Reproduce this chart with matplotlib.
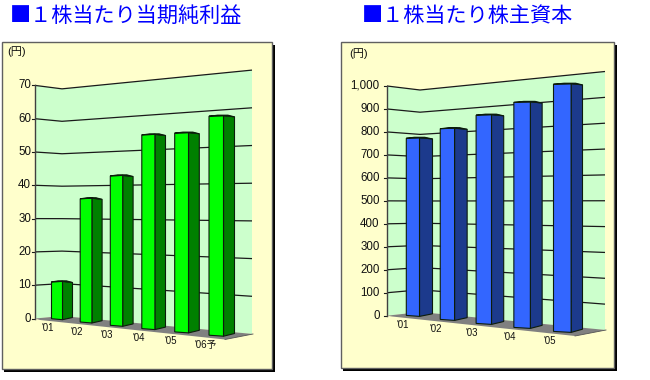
import numpy as np
import matplotlib
matplotlib.use('Agg')
import matplotlib.pyplot as plt
from matplotlib.patches import Polygon, Rectangle

plt.rcParams['font.family'] = ['Liberation Sans', 'Noto Sans CJK JP', 'DejaVu Sans']

# data
years_eps = ["'01", "'02", "'03", "'04", "'05", "'06予"]
eps = [11.0, 36.0, 43.1, 55.2, 56.0, 61.0]
ticks_eps = [0, 10, 20, 30, 40, 50, 60, 70]
ticklabels_eps = ['0', '10', '20', '30', '40', '50', '60', '70']

years_bps = ["'01", "'02", "'03", "'04", "'05"]
bps = [775, 820, 880, 935, 1010]
ticks_bps = [0, 100, 200, 300, 400, 500, 600, 700, 800, 900, 1000]
ticklabels_bps = ['0', '100', '200', '300', '400', '500', '600', '700', '800', '900', '1,000']

title_eps = '■１株当たり当期純利益'
title_bps = '■１株当たり株主資本'

# layout in pixels (fake 3d projection of the old chart)
left_cfg = dict(
    panel=(1.5, 42, 272, 369), wall_x=(35, 62, 252),
    base=(318.5, 316, 334), unit=(3.33, 3.245, 3.77),
    corner_front=(225, 339.5), floor_start=(40, 320),
    slot=(51.5, 28.0, 0.7), front_w=(11, 0.7), side_w=(10, 0.2),
    bar_base=(319.3, 3.3), bar_unit=(3.4, 0.04), side_drop=(1.8, 0.1),
    label_dx=-3.5, label_dy=9, tick_x=31, unit_pos=(17, 52),
    title_x=10, colors=('#00FF00', '#008000'))
right_cfg = dict(
    panel=(340.7, 42, 614, 368), wall_x=(387, 420, 605),
    base=(315.7, 312, 330), unit=(0.2297, 0.222, 0.2585),
    corner_front=(575, 336), floor_start=(392, 316.5),
    slot=(406.3, 33.0, 0.95), front_w=(13.2, 1.1), side_w=(13, -0.4),
    bar_base=(316, 4.0), bar_unit=(0.2293, 0.004), side_drop=(2.2, 0.15),
    label_dx=-4, label_dy=9.5, tick_x=379.5, unit_pos=(358.5, 54),
    title_x=362, colors=('#3366FF', '#1C3A8C'))

GRID = '#1a1a1a'


def wall_y(cfg, value):
    return [b - u * value for b, u in zip(cfg['base'], cfg['unit'])]


def draw_chart(ax, cfg, years, values, ticks, ticklabels, title):
    x0, y0, x1, y1 = cfg['panel']
    ax.add_patch(Rectangle((x0 + 2.5, y0 + 2.5), x1 - x0, y1 - y0, fc='black', ec='none', zorder=1))
    ax.add_patch(Rectangle((x0, y0), x1 - x0, y1 - y0, fc='#FFFFCC', ec='#606060', lw=1, zorder=2))

    # back wall and gridlines
    top = wall_y(cfg, ticks[-1])
    bottom = wall_y(cfg, 0)
    wx = cfg['wall_x']
    ax.add_patch(Polygon(list(zip(wx, top)) + list(zip(wx, bottom))[::-1], fc='#CCFFCC', ec='none', zorder=3))
    for t, lab in zip(ticks, ticklabels):
        ys = wall_y(cfg, t)
        if t > 0:
            ax.plot(wx, ys, color=GRID, lw=0.9, zorder=4, solid_capstyle='butt')
        ax.plot([wx[0] - 3, wx[0]], [ys[0], ys[0]], color=GRID, lw=0.8, zorder=4)
        ax.text(cfg['tick_x'], ys[0], lab, ha='right', va='center', fontsize=8.3, color='#111111', zorder=8)
    ax.plot([wx[0], wx[0]], [top[0], bottom[0]], color='#404040', lw=1, zorder=4)

    # floor
    fx, fy = cfg['corner_front']
    floor = [(wx[0], bottom[0]), (wx[1], bottom[1]), (wx[2] + 1, bottom[2]), (fx, fy), cfg['floor_start']]
    ax.add_patch(Polygon(floor, fc='#808080', ec='none', zorder=4.5))
    ax.plot([fx, wx[2] + 1], [fy, bottom[2]], color='#555555', lw=0.6, zorder=4.6)

    # bars
    s0, s1, s2 = cfg['slot']
    for i, (yr, v) in enumerate(zip(years, values)):
        xl = s0 + s1 * i + s2 * i * i
        xm = xl + cfg['front_w'][0] + cfg['front_w'][1] * i
        xr = xm + cfg['side_w'][0] + cfg['side_w'][1] * i
        yb = cfg['bar_base'][0] + cfg['bar_base'][1] * i
        h = v * (cfg['bar_unit'][0] + cfg['bar_unit'][1] * i)
        yt = yb - h
        drop = cfg['side_drop'][0] + cfg['side_drop'][1] * i
        z = 5 + i * 0.1
        front = [(xl, yt), (xm, yt - 0.5), (xm, yb + 0.4), (xl, yb - 0.6)]
        side = [(xm, yt - 0.5), (xr, yt + 0.6), (xr, yb - drop), (xm, yb + 0.4)]
        cap = [(xl, yt), (xl + (xm - xl) * 0.6, yt - 1.1), (xm + (xr - xm) * 0.4, yt - 1.1), (xr, yt + 0.6), (xm, yt - 0.5)]
        ax.add_patch(Polygon(side, fc=cfg['colors'][1], ec='#0c1c0c', lw=0.8, zorder=z))
        ax.add_patch(Polygon(front, fc=cfg['colors'][0], ec='#0c1c0c', lw=0.8, zorder=z))
        ax.add_patch(Polygon(cap, fc=cfg['colors'][1], ec='#0c1c0c', lw=0.7, zorder=z))
        ax.text(xl + cfg['label_dx'], yb + cfg['label_dy'], yr, ha='center', va='center',
                fontsize=7, color='#111111', zorder=8)

    ax.text(cfg['unit_pos'][0], cfg['unit_pos'][1], '(円)', ha='center', va='center', fontsize=8, color='#111111', zorder=8)
    ax.text(cfg['title_x'], 15.5, title, ha='left', va='center', fontsize=15.2, color='#0000FF',
            family=['Noto Sans CJK JP', 'DejaVu Sans'], zorder=8)


fig = plt.figure(figsize=(6.5, 3.8), dpi=100)
ax = fig.add_axes([0, 0, 1, 1])
ax.set_xlim(0, 650)
ax.set_ylim(380, 0)
ax.axis('off')

draw_chart(ax, left_cfg, years_eps, eps, ticks_eps, ticklabels_eps, title_eps)
draw_chart(ax, right_cfg, years_bps, bps, ticks_bps, ticklabels_bps, title_bps)

fig.savefig('out.png', dpi=100, facecolor='white')
